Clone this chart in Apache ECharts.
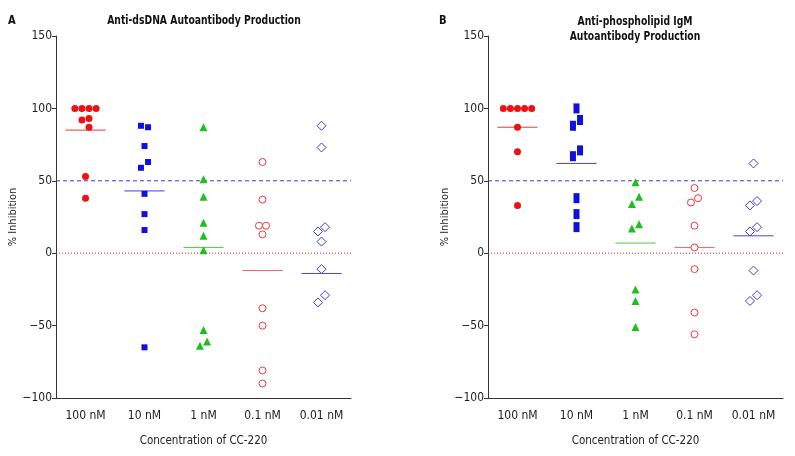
<!DOCTYPE html>
<html>
<head>
    <meta charset="utf-8">
    <title>CC-220 inhibition</title>
    <style type="text/css">
        body {
            margin: 0;
            background: #fff;
        }
        html, body, #main {
            height: 100%;
        }
    </style>
</head>
<body>

    <div id="main"></div>
    <script src="https://cdn.jsdelivr.net/npm/echarts@6/dist/echarts.min.js"></script>

    <script>
        var categories = ['100 nM', '10 nM', '1 nM', '0.1 nM', '0.01 nM'];

        // panel A: anti-dsDNA
        var a100 = [100, 100, 100, 100, 93, 92, 87, 53, 38];
        var a10 = [88, 87, 74, 63, 59, 41, 27, 16, -65];
        var a1 = [87, 51, 39, 21, 12, 2, -53, -61, -64];
        var a01 = [63, 37, 19, 19, 13, -38, -50, -81, -90];
        var a001 = [88, 73, 18, 15, 8, -11, -29, -34];
        var meansA = [85, 43, 4, -12, -14];

        // panel B: anti-phospholipid IgM
        var b100 = [100, 100, 100, 100, 100, 87, 70, 33];
        var b10 = [100, 92, 88, 71, 67, 38, 27, 18];
        var b1 = [49, 39, 34, 20, 17, -25, -33, -51];
        var b01 = [45, 38, 35, 19, 4, -11, -41, -56];
        var b001 = [62, 36, 33, 18, 15, -12, -29, -33];
        var meansB = [87, 62, 7, 4, 12];

        var refValues = [50, 0];

        var FONT = "'Liberation Sans Narrow', 'DejaVu Sans Condensed', sans-serif";

        // spread close values sideways, roughly like the original dot plot
        function swarm(vals, ci) {
            var sorted = vals.slice().sort(function (a, b) { return b - a; });
            var clusters = [];
            sorted.forEach(function (v) {
                var last = clusters[clusters.length - 1];
                if (last && last[last.length - 1] - v < 5.2) last.push(v);
                else clusters.push([v]);
            });
            var step = 0.12;
            var pts = [];
            clusters.forEach(function (c) {
                var tie = c[0] - c[c.length - 1] < 1.5;
                c.forEach(function (v, i) {
                    var off = 0;
                    if (c.length > 1) {
                        off = tie ? (i - (c.length - 1) / 2) * step : (i % 2 === 0 ? 0.5 : -0.5) * step;
                    }
                    pts.push([ci + off, v]);
                });
            });
            return pts;
        }

        var styles = [
            { symbol: 'circle', size: 7, color: '#ee1111', border: null, line: '#e83838' },
            { symbol: 'rect', size: 6, color: '#0f0fe0', border: null, line: '#4040e0' },
            { symbol: 'triangle', size: 8, color: '#1ec01e', border: null, line: '#48c848' },
            { symbol: 'circle', size: 7, color: '#fff', border: '#e83c3c', line: '#ee6060' },
            { symbol: 'diamond', size: 9, color: '#fff', border: '#3c3cd0', line: '#4848cc' }
        ];

        function refLine(gi, y, color, dash) {
            return {
                type: 'line',
                xAxisIndex: gi * 2 + 1,
                yAxisIndex: gi,
                symbol: 'none',
                silent: true,
                z: 1,
                lineStyle: { color: color, type: dash, width: 1 },
                data: [[-0.5, y], [4.5, y]]
            };
        }

        function panelSeries(groups, means, gi, rectSize) {
            var out = [];
            out.push(refLine(gi, refValues[0], '#3a3ad8', [4, 3]));
            out.push(refLine(gi, refValues[1], '#d81e36', [1, 2]));
            groups.forEach(function (vals, i) {
                var st = styles[i];
                out.push({
                    type: 'scatter',
                    xAxisIndex: gi * 2 + 1,
                    yAxisIndex: gi,
                    symbol: st.symbol,
                    symbolSize: (i === 1 && rectSize) ? rectSize : st.size,
                    itemStyle: {
                        color: st.color,
                        borderColor: st.border || st.color,
                        borderWidth: st.border ? 1 : 0,
                        opacity: 1
                    },
                    z: 3,
                    data: swarm(vals, i)
                });
                out.push({
                    type: 'line',
                    xAxisIndex: gi * 2 + 1,
                    yAxisIndex: gi,
                    symbol: 'none',
                    silent: true,
                    lineStyle: { color: st.line, width: 1 },
                    z: 2,
                    data: [[i - 0.34, means[i]], [i + 0.34, means[i]]]
                });
            });
            return out;
        }

        function catAxis(gi) {
            return {
                type: 'category',
                gridIndex: gi,
                data: categories,
                boundaryGap: true,
                axisLine: { onZero: false, lineStyle: { color: '#333', width: 1 } },
                axisTick: { alignWithLabel: true, length: 4, lineStyle: { color: '#333' } },
                axisLabel: { interval: 0, color: '#222', fontSize: 12, fontFamily: FONT, margin: 12 },
                name: 'Concentration of CC-220',
                nameLocation: 'middle',
                nameGap: 37,
                nameTextStyle: { color: '#222', fontSize: 11.5, fontFamily: FONT }
            };
        }

        function posAxis(gi) {
            return {
                type: 'value',
                gridIndex: gi,
                min: -0.5,
                max: 4.5,
                show: false
            };
        }

        function valAxis(gi) {
            return {
                type: 'value',
                gridIndex: gi,
                min: -100,
                max: 150,
                interval: 50,
                splitLine: { show: false },
                axisLine: { show: true, onZero: false, lineStyle: { color: '#333', width: 1 } },
                axisTick: { show: true, length: 4, lineStyle: { color: '#333' } },
                axisLabel: {
                    color: '#222', fontSize: 12, fontFamily: FONT, margin: 4,
                    formatter: function (v) { return v < 0 ? '\u2212' + Math.abs(v) : v; }
                },
                name: '% Inhibition',
                nameLocation: 'middle',
                nameRotate: 90,
                nameGap: 33,
                nameTextStyle: { color: '#222', fontSize: 11, fontFamily: FONT }
            };
        }

        function label(text, x, y, align, sx) {
            return {
                type: 'text',
                x: x,
                y: y,
                scaleX: sx || 1,
                style: {
                    text: text,
                    fill: '#111',
                    font: 'bold 13px ' + FONT,
                    align: align || 'center',
                    verticalAlign: 'middle',
                    lineHeight: 15
                }
            };
        }

        var chart = echarts.init(document.getElementById('main'));
        chart.setOption({
            animation: false,
            backgroundColor: '#fff',
            grid: [
                { left: 56, right: 444, top: 36, bottom: 58 },
                { left: 488, right: 12, top: 36, bottom: 58 }
            ],
            xAxis: [catAxis(0), posAxis(0), catAxis(1), posAxis(1)],
            yAxis: [valAxis(0), valAxis(1)],
            graphic: [
                label('A', 8, 21, 'left', 0.85),
                label('Anti-dsDNA Autoantibody Production', 204, 21, 'center', 0.79),
                label('B', 439, 21, 'left', 0.85),
                label('Anti-phospholipid IgM\nAutoantibody Production', 635, 29, 'center', 0.79)
            ],
            series: panelSeries([a100, a10, a1, a01, a001], meansA, 0, null)
                .concat(panelSeries([b100, b10, b1, b01, b001], meansB, 1, [6, 10]))
        });

        window.addEventListener('resize', function () {
            chart.resize();
        });
    </script>
</body>
</html>
